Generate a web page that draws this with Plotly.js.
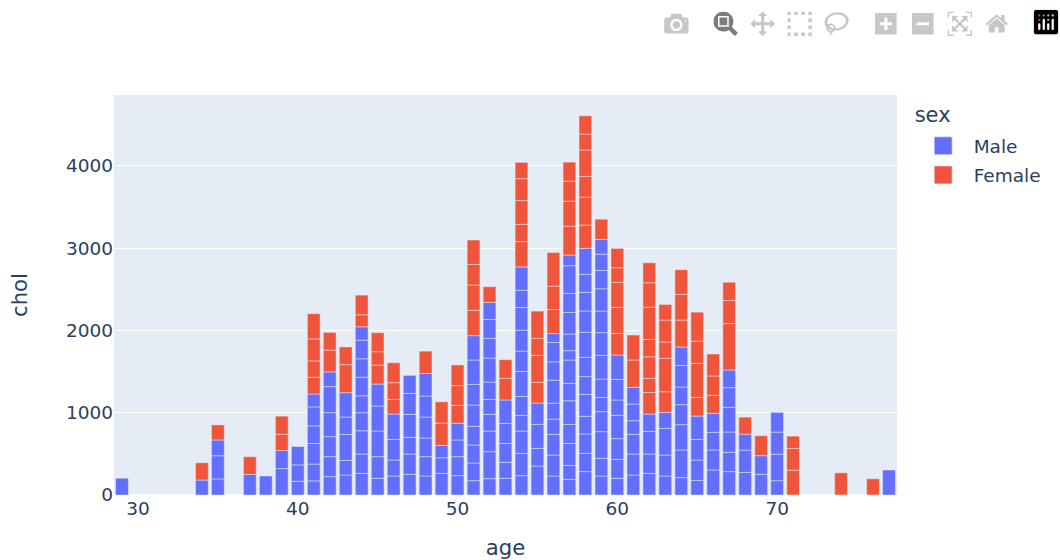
<!DOCTYPE html>
<html>
<head>
<meta charset="utf-8">
<script src="https://cdn.plot.ly/plotly-3.0.0.min.js"></script>
<style>
html,body{margin:0;padding:0;background:#fff}
#chart{width:1060px;height:560px}
.js-plotly-plot .plotly .modebar{transform:scale(1.54);transform-origin:calc(100% - 12px) -6px}
.legend .legendpoints path{transform:translate(30.5px,0) scale(1.5)}
.legend .legendtitletext{transform:translateY(-5px)}
</style>
</head>
<body>
<div id="chart"></div>
<script>
const ages = [29,34,35,37,38,39,40,41,42,43,44,45,46,47,48,49,50,51,52,53,54,55,56,57,58,59,60,61,62,63,64,65,66,67,68,69,70,71,74,76,77];
// patients' chol values per age, bottom to top of each stack; index matches ages
const maleChol = [
 [204],[182],[195,282,192],[250],[231],[321,219],[167,199,223],
 [172,204,250,214,231,157],
 [223,243,243,292,316,180],
 [243,177,315,213,296],
 [263,235,283,219,206,227,223,227,162],
 [203,263,312,304,267],
 [231,194,251,308],
 [251,247,203,279,255,219],
 [231,235,227,255,255,275],
 [263,190,150],
 [235,231,203,203],
 [174,215,219,227,259,251,296,296],
 [198,328,251,203,182,211,292,239,231,207],
 [203,194,231,243,284],
 [235,271,271,190,231,304,247,255,275,211,283],
 [352,215,292,259],
 [231,255,251,186,194,279,223,235,109],
 [190,170,267,231,288,211,284,113,203,263,231,336,130],
 [284,223,235,215,267,215,235,304,259,227,219,316],
 [231,215,324,243,174,223,288,275,263,271,223,198,178],
 [203,231,251,284,186,251,296],
 [243,255,239,166,203,203],
 [263,235,275,211],
 [231,255,324,194],
 [211,336,308,243,215,263,223],
 [178,247,251,284],
 [304,243,215,231],
 [284,235,247,300,239,215],
 [275,271,194],
 [251,227],
 [174,322,269,239],
 [],[],[],[304]];
const femaleChol = [
 [],[210],[183],[215],[],[199,220],[],
 [204,198,268,306],
 [265,215],
 [341,215],
 [146,239],
 [231,162,231],
 [178,203,243],
 [],
 [271],
 [271,259],
 [219,239,251],
 [308,308,251,296],
 [190],
 [263,227],
 [308,210,288,267,198],
 [251,328,207,332],
 [292,284,409],
 [352,304,243,231],
 [283,340,252,320,194,222],
 [247],
 [263,316,304,178,235],
 [332,304],
 [263,170,263,211,393,296,243],
 [251,407,198,267,190],
 [328,312,300],
 [227,413,271,352],
 [219,235,267],
 [564,280,223],
 [207],
 [243],
 [],
 [302,265,149],[269],[197],[]];
const legendTitle = "sex";
const xTitle = "age";
const yTitle = "chol";
const yTicks = [0,1000,2000,3000,4000];
const FONT = '"DejaVu Sans", verdana, sans-serif';

function flatX(rows){return rows.flatMap((r,i)=>r.map(()=>ages[i]));}
const segLine = {color:"#E5ECF6", width:0.5};
const data = [
 {type:"bar", name:"Male", legendgroup:"Male", x:flatX(maleChol), y:maleChol.flat(),
  marker:{color:"#636efa", line:segLine}},
 {type:"bar", name:"Female", legendgroup:"Female", x:flatX(femaleChol), y:femaleChol.flat(),
  marker:{color:"#EF553B", line:segLine}}
];
const layout = {
 width:1060, height:560,
 margin:{l:114, r:163, t:95, b:65},
 paper_bgcolor:"#fff", plot_bgcolor:"#E5ECF6",
 font:{family:FONT, size:18.5, color:"#2a3f5f"},
 barmode:"relative",
 bargap:0.2,
 hovermode:"x",
 legend:{title:{text:legendTitle, font:{size:21}}, tracegroupgap:2, itemwidth:51, y:0.9875},
 xaxis:{title:{text:xTitle, font:{size:21.2}, standoff:23}, range:[28.5,77.5], dtick:10, tick0:0, zeroline:false, showgrid:false},
 yaxis:{title:{text:yTitle, font:{size:21.2}, standoff:32}, range:[0,4863], tickvals:yTicks, gridcolor:"#fff", zerolinecolor:"#fff", zerolinewidth:2}
};
Plotly.newPlot("chart", data, layout, {displayModeBar:true});
</script>
</body>
</html>
